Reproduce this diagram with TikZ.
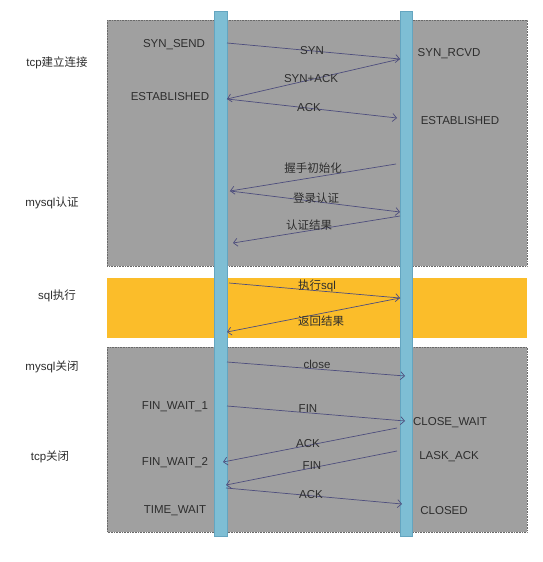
\documentclass[tikz,border=0pt]{standalone}
\usepackage{fontspec}
\setmainfont{Liberation Sans}
\newfontfamily\cjk{Noto Sans CJK SC}
\usetikzlibrary{arrows.meta}
\definecolor{boxgray}{RGB}{160,160,160}
\definecolor{boxedge}{RGB}{105,105,105}
\definecolor{boxorange}{RGB}{251,189,42}
\definecolor{barblue}{RGB}{126,190,212}
\definecolor{baredge}{RGB}{100,165,192}
\definecolor{msgcol}{RGB}{78,78,125}
\definecolor{txt}{RGB}{45,45,45}
\tikzset{
  graybox/.style={fill=boxgray,draw=boxedge,densely dotted,line width=0.6pt},
  orangebox/.style={fill=boxorange,draw=none},
  lifebar/.style={fill=barblue,draw=baredge,line width=0.5pt},
  msg/.style={draw=msgcol,line width=0.7pt,-{Straight Barb[length=4pt,width=8pt]}},
  lbl/.style={text=txt,font=\fontsize{11.5}{13}\selectfont,inner sep=0pt},
  side/.style={text=txt,font=\fontsize{11.5}{13}\selectfont,inner sep=0pt},
}
\begin{document}
\begin{tikzpicture}[x=1pt,y=-1pt]
\useasboundingbox (0,0) rectangle (542,562);
\fill[white] (0,0) rectangle (542,562);
% phase boxes
\path[graybox] (107,20) rectangle (527,266);
\path[orangebox] (107,278) rectangle (527,338);
\path[graybox] (107,347) rectangle (527,532);
% life bars
\path[lifebar] (214,11) rectangle (227,536);
\path[lifebar] (400,11) rectangle (412,536);
% side labels
\node[side] (p1) at (57,63) {tcp{\cjk 建立连接}};
\node[side] (p2) at (52,203) {mysql{\cjk 认证}};
\node[side] (p3) at (57,296) {sql{\cjk 执行}};
\node[side] (p4) at (52,367) {mysql{\cjk 关闭}};
\node[side] (p5) at (50,457) {tcp{\cjk 关闭}};
% states
\node[lbl] (s1) at (174,45) {SYN\_SEND};
\node[lbl] (s2) at (170,97) {ESTABLISHED};
\node[lbl] (s3) at (449,54) {SYN\_RCVD};
\node[lbl] (s4) at (460,121) {ESTABLISHED};
\node[lbl] (s5) at (175,407) {FIN\_WAIT\_1};
\node[lbl] (s6) at (175,463) {FIN\_WAIT\_2};
\node[lbl] (s7) at (175,511) {TIME\_WAIT};
\node[lbl] (s8) at (450,423) {CLOSE\_WAIT};
\node[lbl] (s9) at (449,457) {LASK\_ACK};
\node[lbl] (s10) at (444,511) {CLOSED};
% anchor points on the bars
\coordinate (a1) at (227,43);  \coordinate (b1) at (400,59);
\coordinate (a2) at (227,99);  \coordinate (b2) at (397,118);
\coordinate (b3) at (396,164); \coordinate (a3) at (230,191);
\coordinate (b4) at (400,212); \coordinate (b5) at (400,216);
\coordinate (a5) at (233,243);
\coordinate (a6) at (229,283); \coordinate (b6) at (400,298);
\coordinate (a7) at (227,332);
\coordinate (a8) at (227,362); \coordinate (b8) at (405,376);
\coordinate (a9) at (227,406); \coordinate (b9) at (405,421);
\coordinate (b10) at (397,428); \coordinate (a10) at (223,462);
\coordinate (b11) at (397,451); \coordinate (a11) at (226,485);
\coordinate (a12) at (226,488); \coordinate (b12) at (402,504);
% messages
\draw[msg] (a1) -- (b1);
\draw[msg] (b1) -- (a2);
\draw[msg] (a2) -- (b2);
\draw[msg] (b3) -- (a3);
\draw[msg] (a3) -- (b4);
\draw[msg] (b5) -- (a5);
\draw[msg] (a6) -- (b6);
\draw[msg] (b6) -- (a7);
\draw[msg] (a8) -- (b8);
\draw[msg] (a9) -- (b9);
\draw[msg] (b10) -- (a10);
\draw[msg] (b11) -- (a11);
\draw[msg] (a12) -- (b12);
% message labels
\node[lbl] (m1) at (312,51) {SYN};
\node[lbl] (m2) at (311,79) {SYN+ACK};
\node[lbl] (m3) at (309,108) {ACK};
\node[lbl] (m4) at (313,168) {\cjk 握手初始化};
\node[lbl] (m5) at (316,198) {\cjk 登录认证};
\node[lbl] (m6) at (309,225) {\cjk 认证结果};
\node[lbl] (m7) at (317,286) {{\cjk 执行}sql};
\node[lbl] (m8) at (321,321) {\cjk 返回结果};
\node[lbl] (m9) at (317,364) {close};
\node[lbl] (m10) at (308,409) {FIN};
\node[lbl] (m11) at (308,444) {ACK};
\node[lbl] (m12) at (312,466) {FIN};
\node[lbl] (m13) at (311,495) {ACK};
\end{tikzpicture}
\end{document}
